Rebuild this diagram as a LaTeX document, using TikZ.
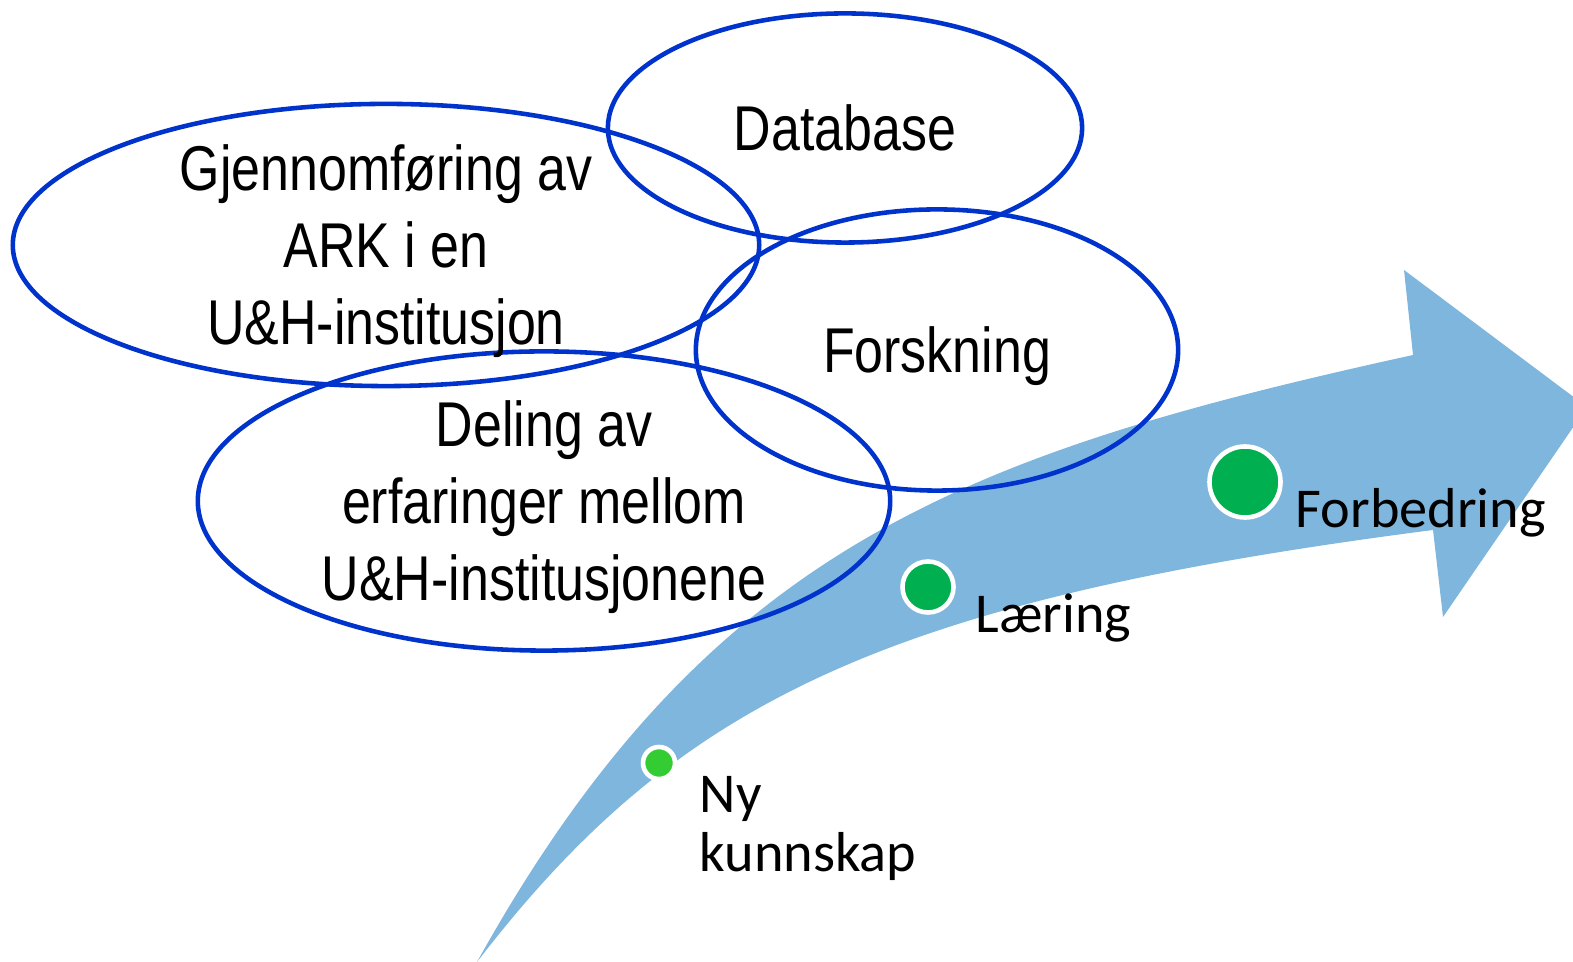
\documentclass[tikz,border=0pt]{standalone}
\usepackage{fontspec}
\setmainfont{Carlito}
\newfontfamily\narrowfont[FakeStretch=0.82]{Liberation Sans}
\usepackage{tikz}
\usetikzlibrary{shapes.geometric}
\definecolor{ringblue}{RGB}{0,51,204}
\definecolor{flowblue}{RGB}{127,182,221}
\definecolor{dotgreen}{RGB}{0,176,80}
\definecolor{dotlime}{RGB}{51,204,51}

\begin{document}
\begin{tikzpicture}[x=0.01cm,y=-0.01cm,
  ring/.style={ellipse,draw=ringblue,line width=1.3pt,inner sep=0pt},
  ringtext/.style={font=\narrowfont\fontsize{18}{21.9}\selectfont,align=center,inner sep=0pt,text depth=0pt},
  dot/.style={circle,draw=white,line width=1.3pt,fill=dotgreen,inner sep=0pt},
  steplabel/.style={font=\fontsize{16}{16.8}\selectfont,inner sep=0pt}]
\useasboundingbox (0,0) rectangle (1573,962);
% the big curved arrow
\fill[flowblue] (477,962) .. controls (707,548) and (963,454) .. (1413,355)
  -- (1404,270) -- (1587,407) -- (1443,617) -- (1433,530)
  .. controls (883,601) and (677,702) .. (477,962) -- cycle;
% rings
\node[ring,minimum width=7.46cm,minimum height=2.82cm] (ark) at (386,245) {};
\node[ring,minimum width=4.74cm,minimum height=2.29cm] (database) at (845,128) {};
\node[ring,minimum width=4.82cm,minimum height=2.81cm] (forskning) at (937,350) {};
\node[ring,minimum width=6.92cm,minimum height=2.99cm] (deling) at (544,501) {};
\node[ringtext] (arktext) at (ark.center) {Gjennomføring av\\ARK i en\\U\&H-institusjon};
\node[ringtext] (databasetext) at (database.center) {Database};
\node[ringtext] (forskningtext) at (forskning.center) {Forskning};
\node[ringtext] (delingtext) at (deling.center) {Deling av\\erfaringer mellom\\U\&H-institusjonene};
% dots and labels
\node[dot,fill=dotlime,minimum size=0.32cm] (nydot) at (659,763) {};
\node[dot,minimum size=0.51cm] (laeringdot) at (928,587) {};
\node[dot,minimum size=0.71cm] (forbedringdot) at (1245,482) {};
\node[steplabel,anchor=north west,align=left] (ny) at (699,776) {Ny\\kunnskap};
\node[steplabel,anchor=base west] (laering) at (975,633) {Læring};
\node[steplabel,anchor=base west] (forbedring) at (1295,528) {Forbedring};
\end{tikzpicture}
\end{document}
